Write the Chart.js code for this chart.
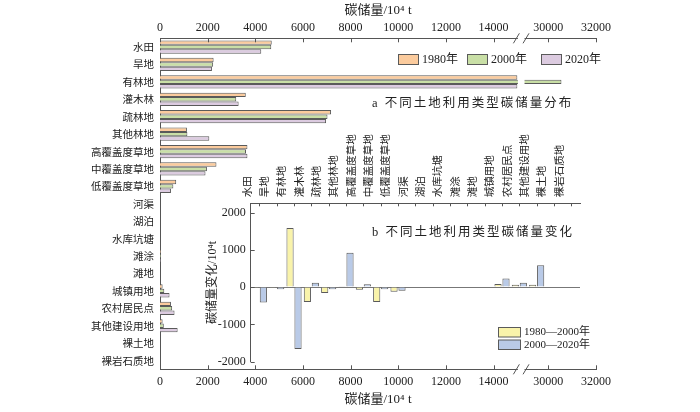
<!DOCTYPE html>
<html><head><meta charset="utf-8">
<script src="https://cdn.jsdelivr.net/npm/chart.js@4/dist/chart.umd.min.js"></script>
<style>
html,body{margin:0;padding:0;background:#fff;}
#wrap{position:relative;width:700px;height:412px;overflow:hidden;}
#main{position:absolute;left:0;top:0;}
#inset{position:absolute;left:190px;top:125px;}
</style></head><body>
<div id="wrap"><canvas id="main" width="700" height="412"></canvas><canvas id="inset" width="400" height="245"></canvas></div>
<script>
// ---------- data ----------
const categories = ['水田','旱地','有林地','灌木林','疏林地','其他林地','高覆盖度草地','中覆盖度草地','低覆盖度草地','河渠','湖泊','水库坑塘','滩涂','滩地','城镇用地','农村居民点','其他建设用地','裸土地','裸岩石质地'];
const stock1980 = [4690, 2250, 28950, 3600, 7180, 1130, 3670, 2370, 680, 0, 0, 0, 40, 0, 110, 460, 110, 0, 0];
const stock2000 = [4670, 2230, 30550, 3200, 7030, 1150, 3610, 1970, 560, 0, 0, 0, 40, 0, 180, 510, 160, 0, 0];
const stock2020 = [4250, 2180, 28850, 3300, 6970, 2070, 3670, 1910, 460, 0, 0, 0, 30, 0, 400, 610, 740, 0, 0];
const change1980_2000 = [-15, -20, 1590, -400, -160, 20, -70, -400, -125, 0, 0, 0, -10, 0, 85, 60, 60, 0, 0];
const change2000_2020 = [-415, -55, -1665, 115, -55, 920, 80, -55, -100, 0, 0, 0, -10, 0, 230, 115, 590, 0, 0];
const stockTicks = [0, 2000, 4000, 6000, 8000, 10000, 12000, 14000, 30000, 32000];
const changeTicks = [-2000, -1000, 0, 1000, 2000];
const stockLabels = ['1980年', '2000年', '2020年'];
const changeLabels = ['1980—2000年', '2000—2020年'];

// ---------- broken axis mapping ----------
const BREAK_LO = 15000, BREAK_HI = 29000, BREAK_GAP = 300;
const SHIFT = BREAK_HI - (BREAK_LO + BREAK_GAP);
function axisVal(v){ return v <= BREAK_LO ? v : (v < BREAK_HI ? BREAK_LO : v - SHIFT); }
function realVal(a){ return a > BREAK_LO ? a + SHIFT : a; }

const FF = "'Liberation Serif', 'Noto Sans CJK SC', serif";
const CJK = "'Noto Sans CJK SC', 'Liberation Serif', sans-serif";
const TXT = '#222';
const AX = '#555';

// ---------- main chart ----------
const mainPlugin = {
  id: 'mainDeco',
  afterDatasetsDraw(chart){
    const ctx = chart.ctx, x = chart.scales.x, a = chart.chartArea;
    const g1 = x.getPixelForValue(BREAK_LO) + 0.5, g2 = x.getPixelForValue(BREAK_LO + BREAK_GAP);
    ctx.save();
    ctx.fillStyle = '#fff';
    ctx.fillRect(g1, a.top - 2, g2 - g1, a.bottom - a.top + 4);
    ctx.strokeStyle = AX; ctx.lineWidth = 1;
    [a.top, a.bottom].forEach(y => {
      [g1 - 1.5, g2 + 1.5].forEach(gx => {
        ctx.beginPath(); ctx.moveTo(gx - 3, y + 5); ctx.lineTo(gx + 3, y - 5); ctx.stroke();
      });
    });
    ctx.restore();
  },
  afterDraw(chart){
    const ctx = chart.ctx, a = chart.chartArea;
    ctx.save();
    ctx.strokeStyle = AX; ctx.lineWidth = 1;
    const xb = chart.scales.x, xt = chart.scales.x2;
    xb.ticks.forEach(t => { const p = Math.round(xb.getPixelForValue(t.value)) + 0.5; ctx.beginPath(); ctx.moveTo(p, a.bottom); ctx.lineTo(p, a.bottom - 4); ctx.stroke(); });
    xt.ticks.forEach(t => { const p = Math.round(xt.getPixelForValue(t.value)) + 0.5; ctx.beginPath(); ctx.moveTo(p, a.top); ctx.lineTo(p, a.top + 4); ctx.stroke(); });
    // legend
    const lx = [398, 467, 541];
    ctx.font = '12px ' + FF; ctx.textBaseline = 'middle'; ctx.textAlign = 'left';
    chart.data.datasets.forEach((ds, i) => {
      ctx.fillStyle = ds.backgroundColor; ctx.fillRect(lx[i] + 0.5, 54.5, 20, 10);
      ctx.strokeStyle = ds.borderColor; ctx.strokeRect(lx[i] + 0.5, 54.5, 20, 10);
      ctx.fillStyle = TXT; ctx.fillText(ds.label, lx[i] + 24, 60);
    });
    // panel title
    ctx.font = '12.5px ' + FF; ctx.letterSpacing = '2px';
    ctx.fillText('a 不同土地利用类型碳储量分布', 372, 104);
    ctx.restore();
  }
};

function xAxisCfg(pos){
  return {
    type: 'linear', position: pos, min: 0, max: axisVal(32000),
    afterBuildTicks(s){ s.ticks = stockTicks.map(v => ({value: axisVal(v)})); },
    afterFit(s){ s.height = pos === 'top' ? 38.3 : 42.7; s.paddingLeft = 0; s.paddingRight = 0; },
    grid: {display: false, drawTicks: false},
    border: {display: true, color: AX, width: 1},
    ticks: {color: TXT, font: {family: FF, size: 12}, padding: pos === 'top' ? 3 : 5, autoSkip: false, maxRotation: 0,
      callback: (v) => String(realVal(v))},
    title: {display: true, text: '碳储量/10⁴ t', color: TXT, font: {family: FF, size: 13},
      padding: pos === 'top' ? {top: 3, bottom: 0} : {top: 0, bottom: 5}}
  };
}

new Chart(document.getElementById('main'), {
  type: 'bar',
  data: {
    labels: categories,
    datasets: [
      {label: stockLabels[0], data: stock1980.map(axisVal), backgroundColor: '#FBCB9D', borderColor: '#5a5a5a', borderWidth: 1},
      {label: stockLabels[1], data: stock2000.map(axisVal), backgroundColor: '#C9DFA6', borderColor: '#5a5a5a', borderWidth: 1},
      {label: stockLabels[2], data: stock2020.map(axisVal), backgroundColor: '#DCCBE0', borderColor: '#5a5a5a', borderWidth: 1}
    ]
  },
  options: {
    responsive: false, animation: false, devicePixelRatio: 1,
    indexAxis: 'y',
    categoryPercentage: 0.76, barPercentage: 1,
    layout: {padding: {left: 0, right: 104, top: 0, bottom: 0}},
    plugins: {legend: {display: false}, tooltip: {enabled: false}},
    scales: {
      x: xAxisCfg('bottom'),
      x2: xAxisCfg('top'),
      y: {
        type: 'category', position: 'left',
        afterFit(s){ s.width = 160; s.paddingTop = 0; s.paddingBottom = 0; },
        grid: {display: false, drawTicks: false},
        border: {display: true, color: AX, width: 1},
        ticks: {color: TXT, font: {family: CJK, size: 10.5}, padding: 6, autoSkip: false}
      }
    }
  },
  plugins: [mainPlugin]
});

// ---------- inset chart ----------
const insetPlugin = {
  id: 'insetDeco',
  afterDraw(chart){
    const ctx = chart.ctx, a = chart.chartArea, x = chart.scales.x, y = chart.scales.y;
    ctx.save();
    ctx.strokeStyle = AX; ctx.lineWidth = 1;
    categories.forEach((c, i) => { const p = Math.round(x.getPixelForTick(i)) + 0.5; ctx.beginPath(); ctx.moveTo(p, a.top); ctx.lineTo(p, a.top + 3); ctx.stroke(); });
    y.ticks.forEach(t => { const p = Math.round(y.getPixelForValue(t.value)) + 0.5; ctx.beginPath(); ctx.moveTo(a.left, p); ctx.lineTo(a.left + 4, p); ctx.stroke(); });
    // legend
    ctx.font = '11px ' + FF; ctx.textBaseline = 'middle'; ctx.textAlign = 'left';
    chart.data.datasets.forEach((ds, i) => {
      const yy = 202.5 + i * 12.5;
      ctx.fillStyle = ds.backgroundColor; ctx.fillRect(308.5, yy, 22, 9.5);
      ctx.strokeStyle = ds.borderColor; ctx.strokeRect(308.5, yy, 22, 9.5);
      ctx.fillStyle = TXT; ctx.fillText(ds.label, 334, yy + 5);
    });
    ctx.font = '12.5px ' + FF; ctx.letterSpacing = '2px';
    ctx.fillText('b 不同土地利用类型碳储量变化', 182, 108);
    ctx.restore();
  }
};

new Chart(document.getElementById('inset'), {
  type: 'bar',
  data: {
    labels: categories,
    datasets: [
      {label: changeLabels[0], data: change1980_2000, backgroundColor: '#F9F3AA', borderColor: '#5a5a5a', borderWidth: 1},
      {label: changeLabels[1], data: change2000_2020, backgroundColor: '#B9CAE7', borderColor: '#5a5a5a', borderWidth: 1}
    ]
  },
  options: {
    responsive: false, animation: false, devicePixelRatio: 1,
    categoryPercentage: 0.92, barPercentage: 0.9,
    layout: {padding: {left: 0, right: 10, top: 0, bottom: 8.4}},
    plugins: {legend: {display: false}, tooltip: {enabled: false}},
    scales: {
      x: {
        type: 'category', position: 'top',
        afterFit(s){ s.height = 78.3; s.paddingLeft = 0; s.paddingRight = 0; },
        grid: {display: false, drawTicks: false},
        border: {display: true, color: AX, width: 1},
        ticks: {color: TXT, font: {family: CJK, size: 10.5}, padding: 6, autoSkip: false, minRotation: 90, maxRotation: 90}
      },
      y: {
        type: 'linear', position: 'left', min: -2000, max: 2250,
        afterBuildTicks(s){ s.ticks = changeTicks.map(v => ({value: v})); },
        afterFit(s){ s.width = 60.7; s.paddingTop = 0; s.paddingBottom = 0; },
        grid: {display: true, drawTicks: false, color: (c) => (c.tick && c.tick.value === 0) ? '#777' : 'rgba(0,0,0,0)'},
        border: {display: true, color: AX, width: 1},
        ticks: {color: TXT, font: {family: FF, size: 12}, padding: 5, callback: (v) => String(v)},
        title: {display: true, text: '碳储量变化/10⁴t', color: TXT, font: {family: FF, size: 12}, padding: {top: 15.5, bottom: 0}}
      }
    }
  },
  plugins: [insetPlugin]
});
</script>
</body></html>
